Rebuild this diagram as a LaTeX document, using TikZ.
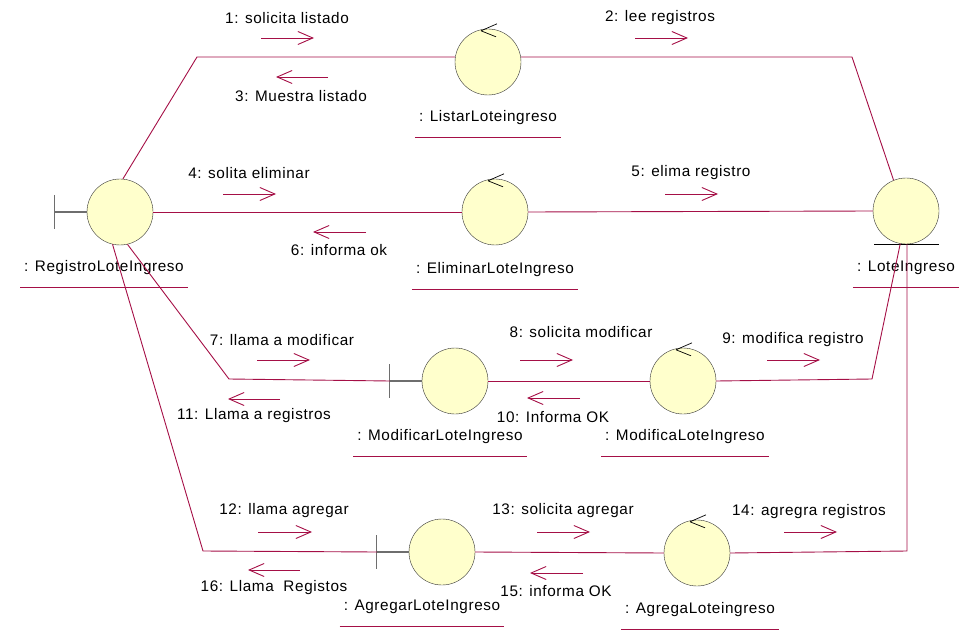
\documentclass[tikz,border=0pt]{standalone}
\usepackage{fontspec}
\setmainfont{Liberation Sans}[LetterSpace=4]
\usetikzlibrary{arrows.meta}
\definecolor{linkred}{RGB}{165,15,70}
\definecolor{objfill}{RGB}{255,255,204}
\definecolor{bargray}{RGB}{110,110,110}

\begin{document}
\begin{tikzpicture}[x=1pt,y=-1pt,every node/.style={font=\fontsize{15.3}{18}\selectfont}]
  \tikzset{
    obj/.style={circle, draw=black!80, thin, fill=objfill, minimum size=66pt, inner sep=0pt},
    link/.style={draw=linkred, line width=0.9pt},
    msg/.style={draw=linkred, line width=0.9pt, -{Straight Barb[length=15pt,width=13pt]}},
    bar/.style={draw=bargray, line width=1.2pt},
    lbl/.style={inner xsep=4pt, inner ysep=2pt},
    uline/.style={draw=linkred, line width=0.9pt}
  }
  \useasboundingbox (0,0) rectangle (976,636);

  % objects
  \node[obj] (reg)  at (120,212) {};
  \node[obj] (lst)  at (488,62)  {};
  \node[obj] (elim) at (495,212) {};
  \node[obj] (ent)  at (906,211) {};
  \node[obj] (mdf)  at (455,381) {};
  \node[obj] (mdc)  at (683,381) {};
  \node[obj] (agr)  at (442,552) {};
  \node[obj] (agc)  at (697,553) {};

  % boundary bars
  \foreach \b in {reg,mdf,agr}{
    \draw[bar] (\b.west) -- ++(-32,0) coordinate (\b bar);
    \draw[bar] ([yshift=17pt]\b bar) -- ([yshift=-17pt]\b bar);
  }
  % control arrows
  \foreach \c in {lst,elim,mdc,agc}
    \draw[line width=0.7pt] ([shift={(-7,2)}]\c.north) -- ++(16,-7)
                ([shift={(-7,2)}]\c.north) -- ++(15,6);
  % entity bar
  \draw[line width=0.7pt] ([xshift=-32pt]ent.south) -- ([xshift=33pt]ent.south);

  % object names
  \node[lbl] (lreg)  at (104,268) {: RegistroLoteIngreso};
  \node[lbl] (llst)  at (488,118) {: ListarLoteingreso};
  \node[lbl] (lelim) at (495,270) {: EliminarLoteIngreso};
  \node[lbl] (lent)  at (906,268) {: LoteIngreso};
  \node[lbl] (lmdf)  at (440,437) {: ModificarLoteIngreso};
  \node[lbl] (lmdc)  at (685,437) {: ModificaLoteIngreso};
  \node[lbl] (lagr)  at (422,607) {: AgregarLoteIngreso};
  \node[lbl] (lagc)  at (700,610) {: AgregaLoteingreso};
  \foreach \l in {lreg,llst,lelim,lent,lmdf,lmdc,lagr,lagc}
    \draw[uline] ([yshift=-10pt]\l.south west) -- ([yshift=-10pt]\l.south east);

  % links
  \coordinate (c1) at (197,57);
  \coordinate (c2) at (852,57);
  \coordinate (c3) at (229,379);
  \coordinate (c4) at (872,379);
  \coordinate (c5) at (203,551);
  \coordinate (c6) at (907,551);
  \draw[link] (reg.85) -- (c1) -- (c1 -| lst.west);
  \draw[link] (c1 -| lst.east) -- (c2) -- (ent.112);
  \draw[link] (reg.east) -- (elim.west);
  \draw[link] (elim.east) -- (ent.west);
  \draw[link] (reg.-77) -- (c3) -- (mdfbar);
  \draw[link] (mdf.east) -- (mdc.west);
  \draw[link] (mdc.east) -- (c4) -- (ent.-100);
  \draw[link] (reg.-103) -- (c5) -- (agrbar);
  \draw[link] (agr.east) -- (agc.west);
  \draw[link] (agc.east) -- (c6) -- (c6 |- ent.south);

  % messages
  \draw[msg] (261,38) -- (314,38);
  \node (m1) at (287,18) {1: solicita listado};
  \draw[msg] (635,38) -- (688,38);
  \node (m2) at (660,18) {2: lee registros};
  \draw[msg] (328,77) -- (276,77);
  \node (m3) at (301,96) {3: Muestra listado};
  \draw[msg] (223,194) -- (276,194);
  \node (m4) at (249,173) {4: solita eliminar};
  \draw[msg] (665,194) -- (718,194);
  \node (m5) at (691,173) {5: elima registro};
  \draw[msg] (366,232) -- (313,232);
  \node (m6) at (339,250) {6: informa ok};
  \draw[msg] (257,360) -- (310,360);
  \node (m7) at (282,340) {7: llama a modificar};
  \draw[msg] (520,360) -- (573,360);
  \node (m8) at (581,332) {8: solicita modificar};
  \draw[msg] (767,360) -- (820,360);
  \node (m9) at (793,340) {9: modifica registro};
  \draw[msg] (580,398) -- (527,398);
  \node (m10) at (553,417) {10: Informa OK};
  \draw[msg] (280,399) -- (228,399);
  \node (m11) at (254,416) {11: Llama a registros};
  \draw[msg] (258,532) -- (312,532);
  \node (m12) at (284,511) {12: llama agregar};
  \draw[msg] (537,532) -- (590,532);
  \node (m13) at (563,511) {13: solicita agregar};
  \draw[msg] (784,532) -- (837,532);
  \node (m14) at (809,512) {14: agregra registros};
  \draw[msg] (583,573) -- (530,573);
  \node (m15) at (556,591) {15: informa OK};
  \draw[msg] (300,570) -- (248,570);
  \node (m16) at (274,588) {16: Llama\ \ Registos};
\end{tikzpicture}
\end{document}
